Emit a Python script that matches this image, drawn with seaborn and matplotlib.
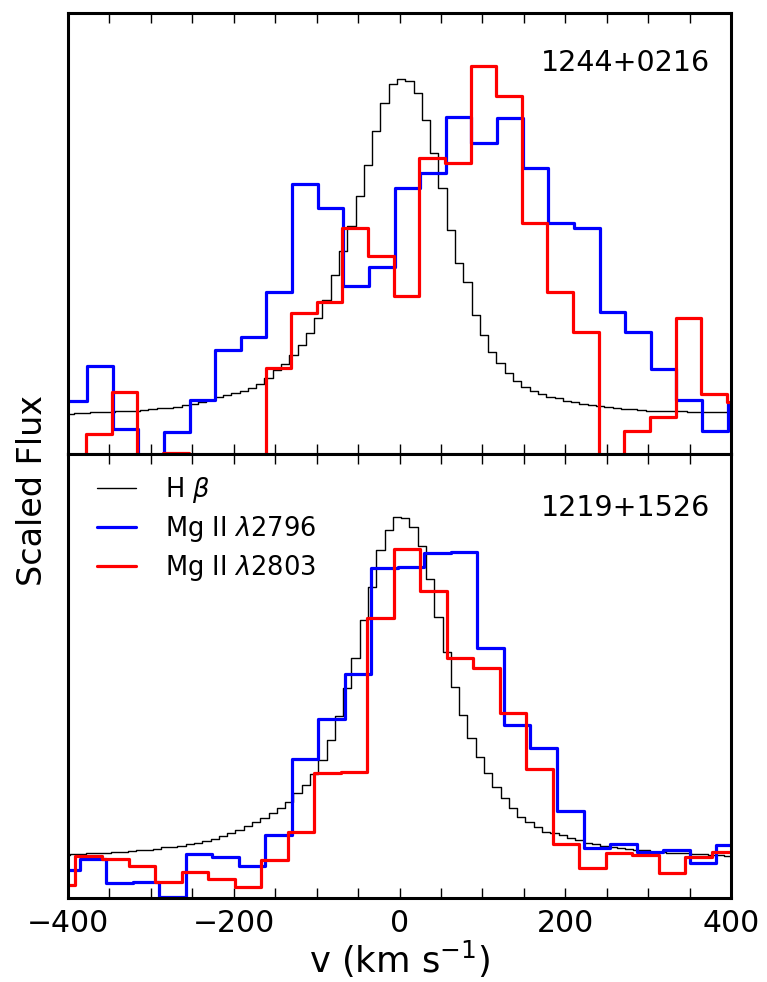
import numpy as np
import matplotlib
matplotlib.use("Agg")
import matplotlib.pyplot as plt
import seaborn as sns
from matplotlib.ticker import MultipleLocator, FuncFormatter

sns.set_theme(style="white")
plt.rcParams["font.family"] = ["DejaVu Sans"]
plt.rcParams["mathtext.fontset"] = "dejavusans"
plt.rcParams["text.color"] = "black"
plt.rcParams["axes.labelcolor"] = "black"
plt.rcParams["xtick.color"] = "black"
plt.rcParams["ytick.color"] = "black"

# ---------------- 1244+0216 ----------------
# H beta, 10 km/s bins (bin centres)
hb_v_top = np.arange(-408, 403, 10)
hb_f_top = [0.009, 0.010, 0.011, 0.011, 0.013, 0.014, 0.014, 0.016, 0.017, 0.018,
            0.020, 0.021, 0.024, 0.026, 0.029, 0.033, 0.037, 0.041, 0.047, 0.054,
            0.060, 0.066, 0.071, 0.079, 0.090, 0.107, 0.128, 0.145, 0.169, 0.196,
            0.229, 0.270, 0.319, 0.387, 0.452, 0.520, 0.602, 0.686, 0.778, 0.854,
            0.906,
            0.920, 0.914, 0.882, 0.808, 0.718, 0.623, 0.509, 0.419, 0.368, 0.278,
            0.224, 0.177, 0.147, 0.120, 0.098, 0.082, 0.071, 0.063, 0.056, 0.051,
            0.045, 0.041, 0.037, 0.033, 0.031, 0.028, 0.025, 0.022, 0.021, 0.020,
            0.018, 0.017, 0.017, 0.016, 0.016, 0.014, 0.014, 0.014, 0.013, 0.013,
            0.011]
hb_w_top = 10.0

# Mg II doublet, ~31 km/s bins (bin centres)
mg_w_top = 30.92
mg2796_v_top = -392.5 + mg_w_top * np.arange(27)
mg2796_f_top = [0.044, 0.140, -0.032, -0.200, -0.040, 0.047, 0.183, 0.219, 0.340,
                0.633, 0.570, 0.357, 0.409, 0.624, 0.663, 0.817, 0.745, 0.814,
                0.678, 0.529, 0.515, 0.287, 0.231, 0.131, 0.047, -0.037, 0.039]
mg2803_v_top = -393.5 + mg_w_top * np.arange(27)
mg2803_f_top = [-0.200, -0.046, 0.069, -0.200, -0.098, -0.200, -0.200, -0.200, 0.133,
                0.283, 0.312, 0.515, 0.439, 0.330, 0.706, 0.690, 0.956, 0.873,
                0.529, 0.340, 0.231, -0.200, -0.037, 0.000, 0.271, 0.063, 0.042]

# ---------------- 1219+1526 ----------------
hb_v_bot = np.arange(-403, 408, 10)
hb_f_bot = [0.015, 0.017, 0.018, 0.020, 0.021, 0.022, 0.024, 0.025, 0.026, 0.029,
            0.030, 0.033, 0.036, 0.038, 0.041, 0.045, 0.049, 0.053, 0.059, 0.066,
            0.074, 0.083, 0.094, 0.106, 0.115, 0.128, 0.142, 0.160, 0.182, 0.205,
            0.235, 0.272, 0.327, 0.391, 0.466, 0.547, 0.651, 0.741, 0.840, 0.894,
            0.930, 0.926, 0.903, 0.851, 0.761, 0.660, 0.565, 0.469, 0.394, 0.331,
            0.281, 0.236, 0.200, 0.169, 0.142, 0.119, 0.106, 0.092, 0.078, 0.074,
            0.070, 0.061, 0.056, 0.049, 0.045, 0.041, 0.038, 0.034, 0.032, 0.029,
            0.028, 0.025, 0.024, 0.022, 0.021, 0.020, 0.018, 0.017, 0.015, 0.015,
            0.014, 0.013]
hb_w_bot = 10.0

mg_w_bot = 32.0
mg2796_v_bot = -402.0 + mg_w_bot * np.arange(26)
mg2796_f_bot = [-0.024, 0.004, -0.059, -0.058, -0.097, 0.017, 0.010, -0.013, 0.071,
                0.274, 0.382, 0.505, 0.791, 0.794, 0.833, 0.836, 0.575, 0.367,
                0.306, 0.134, 0.034, 0.044, 0.024, 0.029, -0.007, 0.043]
mg2803_v_bot = -407.0 + mg_w_bot * np.arange(26)
mg2803_f_bot = [-0.066, 0.013, 0.004, -0.014, -0.058, -0.030, -0.048, -0.070, 0.002,
                0.078, 0.236, 0.241, 0.656, 0.844, 0.729, 0.547, 0.520, 0.399,
                0.247, 0.044, -0.020, 0.021, 0.015, -0.033, 0.009, 0.025]

object_names = ["1244+0216", "1219+1526"]
line_labels = [r"H $\beta$", r"Mg II $\lambda$2796", r"Mg II $\lambda$2803"]
line_colors = ["black", "#0000ff", "#ff0000"]
line_widths = [1.0, 2.3, 2.3]


def draw_binned(ax, centers, flux, width, color, lw, label):
    """Histogram-style spectrum: one flat step per velocity bin."""
    centers = np.asarray(centers, dtype=float)
    flux = np.asarray(flux, dtype=float)
    edges = np.append(centers - width / 2.0, centers[-1] + width / 2.0)
    vals = np.append(flux, flux[-1])
    sns.lineplot(x=edges, y=vals, ax=ax, color=color, linewidth=lw,
                 drawstyle="steps-post", estimator=None, sort=False,
                 label=label, legend=False)


fig = plt.figure(figsize=(7.67, 9.82), dpi=100)
ax_top = fig.add_axes([0.0887, 0.5377, 0.8644, 0.4494])
ax_bot = fig.add_axes([0.0887, 0.0858, 0.8644, 0.4519])

panels = [
    (ax_top, (hb_v_top, hb_f_top, hb_w_top),
     (mg2796_v_top, mg2796_f_top, mg_w_top),
     (mg2803_v_top, mg2803_f_top, mg_w_top), 0.918),
    (ax_bot, (hb_v_bot, hb_f_bot, hb_w_bot),
     (mg2796_v_bot, mg2796_f_bot, mg_w_bot),
     (mg2803_v_bot, mg2803_f_bot, mg_w_bot), 0.910),
]

for (ax, hb, m1, m2, ty), name in zip(panels, object_names):
    for (v, f, w), col, lw, lab in zip([hb, m1, m2], line_colors, line_widths, line_labels):
        draw_binned(ax, v, f, w, col, lw, lab)
    ax.set_xlim(-400, 400)
    ax.set_ylim(-0.1, 1.1)
    ax.set_xlabel("")
    ax.set_ylabel("")
    ax.set_yticks([])
    ax.xaxis.set_major_locator(MultipleLocator(200))
    ax.xaxis.set_minor_locator(MultipleLocator(50))
    ax.tick_params(axis="x", which="both", direction="in", top=True, bottom=True,
                   length=7, width=1.0, color="black", labelcolor="black",
                   labelsize=21.5, pad=8)
    for s in ax.spines.values():
        s.set_visible(True)
        s.set_color("black")
        s.set_linewidth(2.2)
    ax.text(0.968, ty, name, transform=ax.transAxes, ha="right", va="top",
            fontsize=20.5, color="black")

ax_top.tick_params(axis="x", labelbottom=False)
ax_bot.xaxis.set_major_formatter(FuncFormatter(lambda x, p: f"{x:.0f}".replace("-", "\u2212")))
ax_bot.set_xlabel(r"v (km s$^{-1}$)", fontsize=25.5, labelpad=1, color="black")

handles, labels = ax_bot.get_legend_handles_labels()
leg = ax_bot.legend(handles, labels, loc="upper left", bbox_to_anchor=(0.044, 0.952),
                    frameon=False, fontsize=18.5, handlelength=1.5, handletextpad=1.15,
                    labelspacing=0.34, borderaxespad=0.0, borderpad=0.0)
for t in leg.get_texts():
    t.set_color("black")

fig.text(0.043, 0.5, "Scaled Flux", rotation=90, ha="center", va="center",
         fontsize=24, color="black")

fig.savefig("out.png", dpi=100)
